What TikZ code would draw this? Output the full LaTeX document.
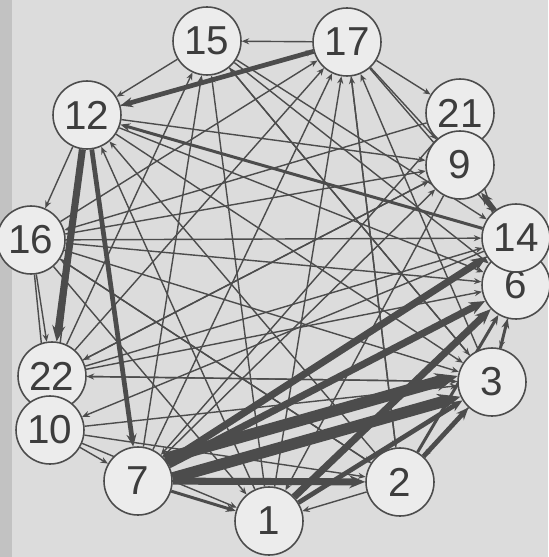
\documentclass[tikz,border=0pt]{standalone}
\usepackage{fontspec}
\setmainfont{Liberation Sans}
\usepackage{xcolor}
\usepackage{tikz}
\usetikzlibrary{arrows.meta,backgrounds}
\definecolor{paper}{HTML}{DCDCDC}
\definecolor{discfill}{HTML}{ECECEC}
\definecolor{tiegray}{HTML}{4C4C4C}
\tikzset{
  netvertex/.style={circle,draw=tiegray,fill=discfill,line width=.9pt,inner sep=0pt,
    minimum size=13.6mm,text=tiegray!80!black,font=\fontsize{23}{23}\selectfont},
  netarrow/.style={draw=tiegray,-{Stealth[length=3pt 1.5,width=2.5pt 1.2]},line width=.8pt},
  netarrowmid/.style={netarrow,line width=1.7pt},
  netarrowthick/.style={netarrow,line width=2.7pt},
  netarrowheavy/.style={netarrow,line width=4pt},
  netarrowhuge/.style={netarrow,line width=6.5pt}
}

\begin{document}
\begin{tikzpicture}[x=0.02cm,y=-0.02cm]
  \useasboundingbox (0,0) rectangle (548,557);
  \begin{scope}[on background layer]
    \fill[paper] (0,0) rectangle (548,557);
    \fill[paper!88!black] (0,0) rectangle (12,557);
  \end{scope}
  % actors round the ring
  \node[netvertex] (a15) at (207,41) {15};
  \node[netvertex] (a17) at (347,42) {17};
  \node[netvertex] (a12) at (87,115) {12};
  \node[netvertex] (a21) at (460,113) {21};
  \node[netvertex] (a9) at (460,165) {9};
  \node[netvertex] (a16) at (31,240) {16};
  \node[netvertex] (a6) at (516,285) {6};
  \node[netvertex] (a14) at (516,238) {14};
  \node[netvertex] (a22) at (52,376) {22};
  \node[netvertex] (a10) at (50,430) {10};
  \node[netvertex] (a3) at (492,382) {3};
  \node[netvertex] (a7) at (138,481) {7};
  \node[netvertex] (a2) at (400,482) {2};
  \node[netvertex] (a1) at (269,521) {1};
  \begin{scope}[on background layer]
    % weak ties
    \draw[netarrow] (a17)--(a15);
    \draw[netarrow] (a15)--(a12);
    \draw[netarrow] (a17)--(a21);
    \draw[netarrow] (a17)--(a14);
    \draw[netarrow] (a17)--(a9);
    \draw[netarrow] (a12)--(a17);
    \draw[netarrow] (a12)--(a9);
    \draw[netarrow] (a12)--(a6);
    \draw[netarrow] (a12)--(a3);
    \draw[netarrow] (a12)--(a16);
    \draw[netarrow] (a12)--(a10);
    \draw[netarrow] (a16)--(a22);
    \draw[netarrow] (a16)--(a10);
    \draw[netarrow] (a16)--(a14);
    \draw[netarrow] (a16)--(a6);
    \draw[netarrow] (a16)--(a17);
    \draw[netarrow] (a16)--(a9);
    \draw[netarrow] (a16)--(a3);
    \draw[netarrow] (a16)--(a2);
    \draw[netarrow] (a16)--(a1);
    \draw[netarrow] (a22)--(a17);
    \draw[netarrow] (a22)--(a15);
    \draw[netarrow] (a22)--(a14);
    \draw[netarrow] (a22)--(a9);
    \draw[netarrow] (a22)--(a6);
    \draw[netarrow] (a22)--(a3);
    \draw[netarrow] (a10)--(a2);
    \draw[netarrow] (a10)--(a1);
    \draw[netarrow] (a10)--(a7);
    \draw[netarrow] (a10)--(a3);
    \draw[netarrow] (a7)--(a17);
    \draw[netarrow] (a7)--(a15);
    \draw[netarrow] (a7)--(a9);
    \draw[netarrow] (a1)--(a17);
    \draw[netarrow] (a1)--(a15);
    \draw[netarrow] (a1)--(a12);
    \draw[netarrow] (a2)--(a17);
    \draw[netarrow] (a2)--(a12);
    \draw[netarrow] (a2)--(a16);
    \draw[netarrow] (a2)--(a1);
    \draw[netarrow] (a3)--(a17);
    \draw[netarrow] (a3)--(a15);
    \draw[netarrow] (a3)--(a22);
    \draw[netarrow] (a3)--(a2);
    \draw[netarrow] (a21)--(a16);
    \draw[netarrow] (a21)--(a7);
    \draw[netarrow] (a21)--(a6);
    \draw[netarrow] (a9)--(a22);
    \draw[netarrow] (a9)--(a1);
    \draw[netarrow] (a15)--(a6);
    \draw[netarrow] (a15)--(a3);
    \draw[netarrow] (a15)--(a14);
    \draw[netarrow] (a17)--(a2);
    \draw[netarrow] (a14)--(a7);
    \draw[netarrow] (a6)--(a3);
    \draw[netarrow] (a14)--(a10);
    % strong ties
    \draw[netarrowmid] (a14)--(a12);
    \draw[netarrowmid] (a7)--(a1);
    \draw[netarrowmid] (a2)--(a6);
    \draw[netarrowmid] (a3)--(a6);
    \draw[netarrowthick] (a17)--(a12);
    \draw[netarrowthick] (a12)--(a7);
    \draw[netarrowthick] (a14)--(a9);
    \draw[netarrowthick] (a2)--(a3);
    \draw[netarrowthick] (a1)--(a3);
    \draw[netarrowheavy] (a12)--(a22);
    \draw[netarrowheavy] (a7)--(a14);
    \draw[netarrowheavy] (a7)--(a6);
    \draw[netarrowheavy] (a7)--(a2);
    \draw[netarrowheavy] (a1)--(a6);
    \draw[netarrowhuge] (a7.40)--(a3.170);
    \draw[netarrowhuge] (a7.5)--(a3.205);
  \end{scope}
\end{tikzpicture}
\end{document}
